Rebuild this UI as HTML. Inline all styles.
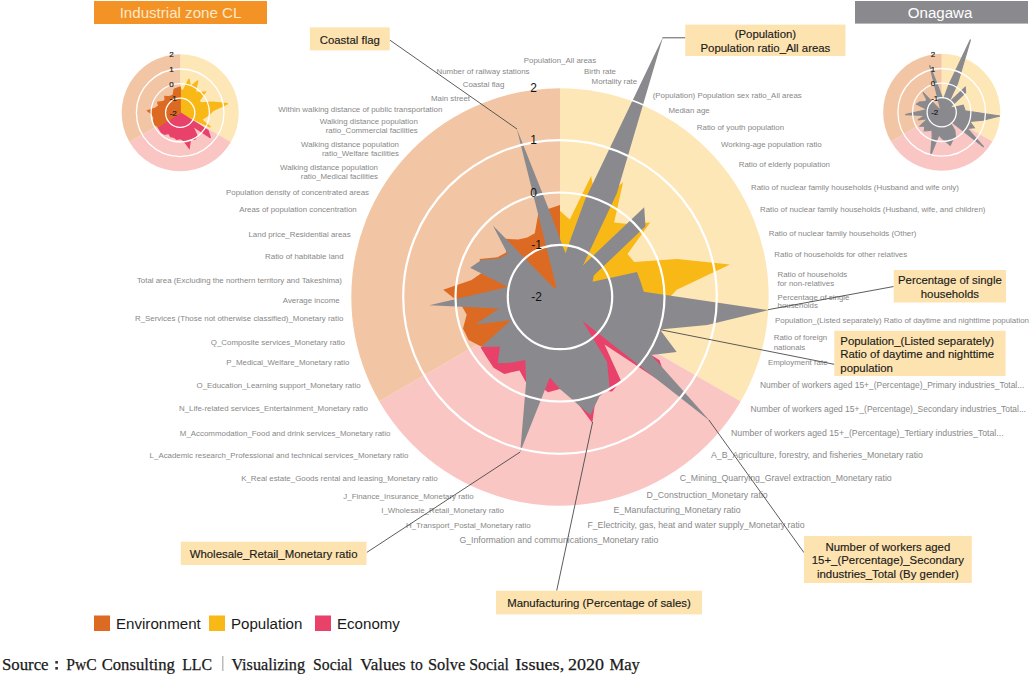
<!DOCTYPE html>
<html><head><meta charset="utf-8"><style>
html,body{margin:0;padding:0;background:#fff;width:1030px;height:674px;overflow:hidden}
svg{position:absolute;left:0;top:0;display:block}
text{font-family:"Liberation Sans",sans-serif}
text.ser{font-family:"Liberation Serif",serif}
.src{position:absolute;left:3px;top:654px;font-family:"Liberation Serif",serif;font-size:15px;color:#222;white-space:nowrap;word-spacing:3px}
</style></head><body>
<svg width="1030" height="674" viewBox="0 0 1030 674">
<path d="M180.2 112.8 L180.2 54.2 A58.6 58.6 0 0 1 230.9 142.1 Z" fill="#fee7b6"/>
<path d="M180.2 112.8 L230.9 142.1 A58.6 58.6 0 0 1 129.5 142.1 Z" fill="#f9c6c4"/>
<path d="M180.2 112.8 L129.5 142.1 A58.6 58.6 0 0 1 180.2 54.2 Z" fill="#f2c6a4"/>
<path d="M180.2 112.8 L180.2 88.8 L182.9 91.2 L188.9 79.0 L190.5 86.8 L197.8 80.7 L195.3 92.0 L199.3 92.4 L205.4 92.0 L199.1 100.8 L200.9 103.0 L212.9 102.2 L227.7 103.7 L212.8 110.7 L209.2 114.6 L204.9 117.5 L201.5 119.7 L210.5 127.1Z" fill="#f8b816" stroke-width="1.3" stroke-linejoin="miter" stroke-miterlimit="3" stroke="#f8b816"/>
<path d="M180.2 112.8 L208.0 130.5 L210.4 137.7 L192.6 126.0 L197.3 136.3 L194.7 139.3 L190.5 138.8 L189.2 148.0 L183.7 140.5 L180.2 138.5 L176.8 139.4 L173.9 137.2 L170.7 136.7 L168.9 133.4 L164.6 134.3 L161.6 132.6 L159.7 129.7 L158.0 126.9Z" fill="#e8416a" stroke-width="1.3" stroke-linejoin="miter" stroke-miterlimit="3" stroke="#e8416a"/>
<path d="M180.2 112.8 L158.3 126.7 L154.7 124.8 L153.1 121.6 L154.1 117.8 L152.3 114.6 L147.6 110.7 L155.5 108.1 L158.7 105.8 L157.7 102.2 L162.7 101.7 L165.1 100.3 L164.9 96.5 L168.5 96.7 L171.0 96.1 L173.2 95.0 L174.2 89.2 L177.1 88.1 L180.2 87.1Z" fill="#dd6a22" stroke-width="1.3" stroke-linejoin="miter" stroke-miterlimit="3" stroke="#dd6a22"/>
<circle cx="180.2" cy="112.8" r="14.6" fill="none" stroke="#fff" stroke-width="1.30"/>
<circle cx="180.2" cy="112.8" r="29.2" fill="none" stroke="#fff" stroke-width="1.30"/>
<circle cx="180.2" cy="112.8" r="43.8" fill="none" stroke="#fff" stroke-width="1.30"/>
<path d="M941.7 112.3 L941.7 53.7 A58.6 58.6 0 0 1 992.4 141.6 Z" fill="#fee7b6"/>
<path d="M941.7 112.3 L992.4 141.6 A58.6 58.6 0 0 1 891.0 141.6 Z" fill="#f9c6c4"/>
<path d="M941.7 112.3 L891.0 141.6 A58.6 58.6 0 0 1 941.7 53.7 Z" fill="#f2c6a4"/>
<path d="M941.7 96.1 L943.2 100.1 L948.7 85.2 L970.5 39.5 L957.6 83.4 L948.1 103.5 L965.2 87.2 L965.6 92.5 L951.1 106.3 L950.8 108.0 L963.2 105.3 L964.2 108.0 L965.1 110.8 L1000.0 116.0 L982.9 120.2 L969.6 121.4 L974.3 127.7 L967.2 128.5 L983.7 147.0 L948.0 119.0 L954.8 130.4 L955.6 137.5 L952.7 140.1 L950.2 145.3 L945.3 141.1 L941.7 138.0 L938.9 134.8 L930.6 155.6 L932.2 136.2 L932.0 129.9 L928.4 130.6 L924.3 130.8 L924.9 126.2 L919.8 126.2 L928.0 118.7 L918.0 120.0 L924.7 115.5 L905.2 114.6 L920.8 111.0 L927.1 109.5 L916.6 104.1 L919.7 101.9 L924.7 101.5 L927.1 100.2 L922.9 92.3 L939.6 109.4 L940.4 109.9 L940.8 110.0 L929.6 65.2 L938.6 87.9Z" fill="#8a8a8e" stroke="#8a8a8e" stroke-width="1.2" stroke-miterlimit="3"/>
<circle cx="941.7" cy="112.3" r="14.6" fill="none" stroke="#fff" stroke-width="1.30"/>
<circle cx="941.7" cy="112.3" r="29.2" fill="none" stroke="#fff" stroke-width="1.30"/>
<circle cx="941.7" cy="112.3" r="43.8" fill="none" stroke="#fff" stroke-width="1.30"/>
<path d="M560.0 297.0 L560.0 87.5 A209.5 209.5 0 0 1 741.4 401.8 Z" fill="#fee7b6"/>
<path d="M560.0 297.0 L741.4 401.8 A209.5 209.5 0 0 1 378.6 401.7 Z" fill="#f9c6c4"/>
<path d="M560.0 297.0 L378.6 401.7 A209.5 209.5 0 0 1 560.0 87.5 Z" fill="#f2c6a4"/>
<path d="M560.0 297.0 L560.0 211.0 L569.8 219.6 L591.1 175.9 L596.8 204.0 L623.1 182.2 L614.1 222.6 L628.5 224.1 L650.2 222.4 L627.5 254.1 L634.2 262.1 L677.0 259.0 L729.9 264.6 L676.8 289.7 L663.8 303.5 L648.4 313.9 L636.1 321.7 L668.6 348.1Z" fill="#f8b816"/>
<path d="M560.0 297.0 L659.6 360.2 L667.9 386.2 L604.5 344.4 L621.1 381.1 L612.0 391.6 L596.8 390.0 L592.3 422.9 L572.5 396.2 L560.0 389.0 L548.0 392.2 L537.6 384.2 L526.1 382.5 L519.5 370.6 L504.2 373.9 L493.6 367.7 L486.8 357.6 L480.6 347.4Z" fill="#e8416a"/>
<path d="M560.0 297.0 L481.5 346.8 L468.6 340.0 L463.0 328.5 L466.7 314.8 L460.2 303.3 L443.2 289.7 L471.6 280.1 L483.0 272.0 L479.5 259.1 L497.5 257.3 L506.1 252.4 L505.2 238.7 L518.3 239.6 L527.2 237.4 L534.8 233.3 L538.4 212.7 L548.8 208.7 L560.0 205.0Z" fill="#dd6a22"/>
<path d="M560.0 239.0 L565.5 253.3 L584.9 200.1 L663.1 36.7 L616.8 193.6 L582.9 265.4 L644.2 207.3 L645.5 226.2 L593.8 275.6 L592.6 281.7 L637.0 272.0 L640.5 281.6 L643.8 291.7 L768.6 310.1 L707.3 325.1 L659.9 329.4 L676.7 351.9 L651.2 354.9 L710.3 421.3 L582.6 321.1 L607.0 361.7 L609.6 387.3 L599.4 396.5 L590.3 415.2 L573.0 400.2 L560.0 389.0 L549.8 377.4 L520.2 452.0 L526.1 382.5 L525.3 360.1 L512.4 362.5 L497.7 363.3 L499.9 346.7 L481.5 346.8 L511.1 320.0 L475.4 324.5 L499.1 308.6 L429.3 305.2 L485.1 292.3 L507.9 287.1 L470.1 267.8 L481.3 260.0 L499.2 258.4 L507.6 253.7 L492.9 225.6 L552.4 286.5 L555.2 288.2 L556.7 288.6 L516.7 128.5 L549.0 209.7Z" fill="#8a8a8e"/>
<circle cx="560.0" cy="297.0" r="209.5" fill="none" stroke="#fff" stroke-width="1.6"/>
<circle cx="560.0" cy="297.0" r="52.2" fill="none" stroke="#fff" stroke-width="2.20"/>
<circle cx="560.0" cy="297.0" r="104.5" fill="none" stroke="#fff" stroke-width="2.20"/>
<circle cx="560.0" cy="297.0" r="156.8" fill="none" stroke="#fff" stroke-width="2.20"/>
<text x="523.8" y="62.8" font-size="7.90" fill="#888" text-anchor="start">Population_All areas</text>
<text x="436.5" y="73.8" font-size="7.90" fill="#888" text-anchor="start">Number of railway stations</text>
<text x="462.7" y="86.6" font-size="7.90" fill="#888" text-anchor="start">Coastal flag</text>
<text x="431.0" y="100.6" font-size="7.90" fill="#888" text-anchor="start">Main street</text>
<text x="442.3" y="112.1" font-size="7.90" fill="#888" text-anchor="end">Within walking distance of public transportation</text>
<text x="417.8" y="124.3" font-size="7.90" fill="#888" text-anchor="end">Walking distance population</text>
<text x="417.8" y="133.2" font-size="7.90" fill="#888" text-anchor="end">ratio_Commercial facilities</text>
<text x="399.0" y="147.1" font-size="7.90" fill="#888" text-anchor="end">Walking distance population</text>
<text x="399.0" y="155.9" font-size="7.90" fill="#888" text-anchor="end">ratio_Welfare facilities</text>
<text x="378.0" y="170.2" font-size="7.90" fill="#888" text-anchor="end">Walking distance population</text>
<text x="378.0" y="179.1" font-size="7.90" fill="#888" text-anchor="end">ratio_Medical facilities</text>
<text x="369.0" y="194.6" font-size="7.90" fill="#888" text-anchor="end">Population density of concentrated areas</text>
<text x="356.7" y="212.4" font-size="7.90" fill="#888" text-anchor="end">Areas of population concentration</text>
<text x="350.7" y="236.8" font-size="7.90" fill="#888" text-anchor="end">Land price_Residential areas</text>
<text x="343.6" y="258.8" font-size="7.90" fill="#888" text-anchor="end">Ratio of habitable land</text>
<text x="342.0" y="282.8" font-size="7.90" fill="#888" text-anchor="end">Total area (Excluding the northern territory and Takeshima)</text>
<text x="339.7" y="303.4" font-size="7.90" fill="#888" text-anchor="end">Average income</text>
<text x="343.3" y="321.4" font-size="7.90" fill="#888" text-anchor="end">R_Services (Those not otherwise classified)_Monetary ratio</text>
<text x="345.0" y="344.5" font-size="7.90" fill="#888" text-anchor="end">Q_Composite services_Monetary ratio</text>
<text x="349.4" y="365.2" font-size="7.90" fill="#888" text-anchor="end">P_Medical_Welfare_Monetary ratio</text>
<text x="360.6" y="387.5" font-size="7.90" fill="#888" text-anchor="end">O_Education_Learning support_Monetary ratio</text>
<text x="368.0" y="411.4" font-size="7.90" fill="#888" text-anchor="end">N_Life-related services_Entertainment_Monetary ratio</text>
<text x="390.4" y="435.8" font-size="7.90" fill="#888" text-anchor="end">M_Accommodation_Food and drink services_Monetary ratio</text>
<text x="408.4" y="458.3" font-size="7.90" fill="#888" text-anchor="end">L_Academic research_Professional and technical services_Monetary ratio</text>
<text x="437.7" y="480.8" font-size="7.90" fill="#888" text-anchor="end">K_Real estate_Goods rental and leasing_Monetary ratio</text>
<text x="473.6" y="498.8" font-size="7.90" fill="#888" text-anchor="end">J_Finance_Insurance_Monetary ratio</text>
<text x="504.0" y="513.3" font-size="7.90" fill="#888" text-anchor="end">I_Wholesale_Retail_Monetary ratio</text>
<text x="530.7" y="527.8" font-size="7.90" fill="#888" text-anchor="end">H_Transport_Postal_Monetary ratio</text>
<text x="459.4" y="543.1" font-size="8.75" fill="#888" text-anchor="start">G_Information and communications_Monetary ratio</text>
<text x="587.4" y="527.5" font-size="8.75" fill="#888" text-anchor="start">F_Electricity, gas, heat and water supply_Monetary ratio</text>
<text x="613.6" y="512.9" font-size="8.75" fill="#888" text-anchor="start">E_Manufacturing_Monetary ratio</text>
<text x="646.6" y="497.6" font-size="8.75" fill="#888" text-anchor="start">D_Construction_Monetary ratio</text>
<text x="679.7" y="480.9" font-size="8.75" fill="#888" text-anchor="start">C_Mining_Quarrying_Gravel extraction_Monetary ratio</text>
<text x="711.0" y="458.3" font-size="8.75" fill="#888" text-anchor="start">A_B_Agriculture, forestry, and fisheries_Monetary ratio</text>
<text x="731.0" y="436.4" font-size="8.75" fill="#888" text-anchor="start">Number of workers aged 15+_(Percentage)_Tertiary industries_Total...</text>
<text x="750.4" y="411.6" font-size="8.45" fill="#888" text-anchor="start">Number of workers aged 15+_(Percentage)_Secondary industries_Total...</text>
<text x="760.0" y="387.7" font-size="8.45" fill="#888" text-anchor="start">Number of workers aged 15+_(Percentage)_Primary industries_Total...</text>
<text x="767.9" y="365.0" font-size="7.90" fill="#888" text-anchor="start">Employment rate</text>
<text x="773.7" y="340.3" font-size="7.90" fill="#888" text-anchor="start">Ratio of foreign</text>
<text x="773.7" y="349.6" font-size="7.90" fill="#888" text-anchor="start">nationals</text>
<text x="775.0" y="322.8" font-size="7.90" fill="#888" text-anchor="start">Population_(Listed separately) Ratio of daytime and nighttime population</text>
<text x="777.5" y="299.5" font-size="7.90" fill="#888" text-anchor="start">Percentage of single</text>
<text x="777.5" y="308.3" font-size="7.90" fill="#888" text-anchor="start">households</text>
<text x="777.5" y="276.5" font-size="7.90" fill="#888" text-anchor="start">Ratio of households</text>
<text x="777.5" y="285.5" font-size="7.90" fill="#888" text-anchor="start">for non-relatives</text>
<text x="774.3" y="257.0" font-size="7.90" fill="#888" text-anchor="start">Ratio of households for other relatives</text>
<text x="768.7" y="236.3" font-size="7.90" fill="#888" text-anchor="start">Ratio of nuclear family households (Other)</text>
<text x="760.0" y="212.1" font-size="7.90" fill="#888" text-anchor="start">Ratio of nuclear family households (Husband, wife, and children)</text>
<text x="751.0" y="189.7" font-size="7.90" fill="#888" text-anchor="start">Ratio of nuclear family households (Husband and wife only)</text>
<text x="738.7" y="166.8" font-size="7.90" fill="#888" text-anchor="start">Ratio of elderly population</text>
<text x="721.0" y="147.3" font-size="7.90" fill="#888" text-anchor="start">Working-age population ratio</text>
<text x="696.8" y="129.8" font-size="7.90" fill="#888" text-anchor="start">Ratio of youth population</text>
<text x="668.5" y="113.4" font-size="7.90" fill="#888" text-anchor="start">Median age</text>
<text x="652.7" y="97.7" font-size="7.90" fill="#888" text-anchor="start">(Population) Population sex ratio_All areas</text>
<text x="591.6" y="84.4" font-size="7.90" fill="#888" text-anchor="start">Mortality rate</text>
<text x="584.0" y="73.6" font-size="7.90" fill="#888" text-anchor="start">Birth rate</text>
<text x="536.5" y="301.2" font-size="12" fill="#111" text-anchor="middle">-2</text>
<text x="536.5" y="248.9" font-size="12" fill="#111" text-anchor="middle">-1</text>
<text x="533.5" y="196.7" font-size="12" fill="#111" text-anchor="middle">0</text>
<text x="533.5" y="144.4" font-size="12" fill="#111" text-anchor="middle">1</text>
<text x="533.5" y="92.2" font-size="12" fill="#111" text-anchor="middle">2</text>
<text x="173.2" y="115.8" font-size="8" fill="#222" stroke="#222" stroke-width="0.2" text-anchor="middle">-2</text>
<text x="173.2" y="101.2" font-size="8" fill="#222" stroke="#222" stroke-width="0.2" text-anchor="middle">-1</text>
<text x="171.4" y="86.6" font-size="8" fill="#222" stroke="#222" stroke-width="0.2" text-anchor="middle">0</text>
<text x="171.4" y="72.0" font-size="8" fill="#222" stroke="#222" stroke-width="0.2" text-anchor="middle">1</text>
<text x="171.4" y="57.4" font-size="8" fill="#222" stroke="#222" stroke-width="0.2" text-anchor="middle">2</text>
<text x="934.7" y="115.3" font-size="8" fill="#222" stroke="#222" stroke-width="0.2" text-anchor="middle">-2</text>
<text x="934.7" y="100.7" font-size="8" fill="#222" stroke="#222" stroke-width="0.2" text-anchor="middle">-1</text>
<text x="932.9" y="86.1" font-size="8" fill="#222" stroke="#222" stroke-width="0.2" text-anchor="middle">0</text>
<text x="932.9" y="71.5" font-size="8" fill="#222" stroke="#222" stroke-width="0.2" text-anchor="middle">1</text>
<text x="932.9" y="56.9" font-size="8" fill="#222" stroke="#222" stroke-width="0.2" text-anchor="middle">2</text>
<line x1="389.7" y1="40.0" x2="517.0" y2="129.0" stroke="#4a4a4a" stroke-width="0.9"/>
<line x1="662.5" y1="37.8" x2="685.3" y2="37.8" stroke="#4a4a4a" stroke-width="0.9"/>
<line x1="893.7" y1="286.5" x2="768.0" y2="309.7" stroke="#4a4a4a" stroke-width="0.9"/>
<line x1="660.2" y1="329.7" x2="834.3" y2="364.3" stroke="#4a4a4a" stroke-width="0.9"/>
<line x1="708.9" y1="420.0" x2="804.0" y2="552.7" stroke="#4a4a4a" stroke-width="0.9"/>
<line x1="592.6" y1="422.0" x2="556.7" y2="590.7" stroke="#4a4a4a" stroke-width="0.9"/>
<line x1="366.8" y1="552.4" x2="520.2" y2="452.0" stroke="#4a4a4a" stroke-width="0.9"/>
<rect x="309.9" y="27.4" width="79.8" height="23.0" fill="#fde3b0"/>
<text x="349.8" y="43.7" font-size="11.4" fill="#1a1a1a" stroke="#1a1a1a" stroke-width="0.15" text-anchor="middle">Coastal flag</text>
<rect x="685.3" y="24.6" width="160.2" height="31.4" fill="#fde3b0"/>
<text x="765.4" y="38.4" font-size="11.4" fill="#1a1a1a" stroke="#1a1a1a" stroke-width="0.15" text-anchor="middle">(Population)</text>
<text x="765.4" y="51.7" font-size="11.4" fill="#1a1a1a" stroke="#1a1a1a" stroke-width="0.15" text-anchor="middle">Population ratio_All areas</text>
<rect x="893.7" y="270.0" width="112.3" height="32.5" fill="#fde3b0"/>
<text x="949.9" y="284.4" font-size="11.4" fill="#1a1a1a" stroke="#1a1a1a" stroke-width="0.15" text-anchor="middle">Percentage of single</text>
<text x="949.9" y="297.7" font-size="11.4" fill="#1a1a1a" stroke="#1a1a1a" stroke-width="0.15" text-anchor="middle">households</text>
<rect x="834.3" y="330.8" width="171.3" height="45.2" fill="#fde3b0"/>
<text x="840.3" y="344.9" font-size="11.4" fill="#1a1a1a" stroke="#1a1a1a" stroke-width="0.15" text-anchor="start">Population_(Listed separately)</text>
<text x="840.3" y="358.2" font-size="11.4" fill="#1a1a1a" stroke="#1a1a1a" stroke-width="0.15" text-anchor="start">Ratio of daytime and nighttime</text>
<text x="840.3" y="371.5" font-size="11.4" fill="#1a1a1a" stroke="#1a1a1a" stroke-width="0.15" text-anchor="start">population</text>
<rect x="804.0" y="536.0" width="167.8" height="47.0" fill="#fde3b0"/>
<text x="887.9" y="551.0" font-size="11.4" fill="#1a1a1a" stroke="#1a1a1a" stroke-width="0.15" text-anchor="middle">Number of workers aged</text>
<text x="887.9" y="564.3" font-size="11.4" fill="#1a1a1a" stroke="#1a1a1a" stroke-width="0.15" text-anchor="middle">15+_(Percentage)_Secondary</text>
<text x="887.9" y="577.6" font-size="11.4" fill="#1a1a1a" stroke="#1a1a1a" stroke-width="0.15" text-anchor="middle">industries_Total (By gender)</text>
<rect x="496.0" y="590.7" width="206.0" height="23.7" fill="#fde3b0"/>
<text x="599.0" y="607.3" font-size="11.4" fill="#1a1a1a" stroke="#1a1a1a" stroke-width="0.15" text-anchor="middle">Manufacturing (Percentage of sales)</text>
<rect x="180.8" y="541.7" width="185.7" height="23.3" fill="#fde3b0"/>
<text x="273.6" y="558.1" font-size="11.4" fill="#1a1a1a" stroke="#1a1a1a" stroke-width="0.15" text-anchor="middle">Wholesale_Retail_Monetary ratio</text>
<rect x="94" y="1" width="173" height="23" fill="#f39325"/>
<text x="180.5" y="18.3" font-size="15.1" fill="#fde8c8" text-anchor="middle">Industrial zone CL</text>
<rect x="855" y="1" width="173" height="22.6" fill="#8a8a8e"/>
<text x="940.1" y="18.3" font-size="15.1" fill="#fff" text-anchor="middle">Onagawa</text>
<rect x="94" y="615.5" width="16" height="15.5" fill="#dd6a22"/>
<text x="116" y="628.5" font-size="15.1" fill="#1a1a1a">Environment</text>
<rect x="209" y="615.5" width="16" height="15.5" fill="#f8b816"/>
<text x="231" y="628.5" font-size="15.1" fill="#1a1a1a">Population</text>
<rect x="315" y="615.5" width="16" height="15.5" fill="#e8416a"/>
<text x="337" y="628.5" font-size="15.1" fill="#1a1a1a">Economy</text>
<text x="1.9" y="669.8" class="ser" font-size="16.8" fill="#1a1a1a" stroke="#1a1a1a" stroke-width="0.25" textLength="46.7" lengthAdjust="spacingAndGlyphs">Source</text>
<text x="66.2" y="669.8" class="ser" font-size="16.8" fill="#1a1a1a" stroke="#1a1a1a" stroke-width="0.25" textLength="30.4" lengthAdjust="spacingAndGlyphs">PwC</text>
<text x="101.7" y="669.8" class="ser" font-size="16.8" fill="#1a1a1a" stroke="#1a1a1a" stroke-width="0.25" textLength="73.1" lengthAdjust="spacingAndGlyphs">Consulting</text>
<text x="182.2" y="669.8" class="ser" font-size="16.8" fill="#1a1a1a" stroke="#1a1a1a" stroke-width="0.25" textLength="29.9" lengthAdjust="spacingAndGlyphs">LLC</text>
<text x="231.4" y="669.8" class="ser" font-size="16.8" fill="#1a1a1a" stroke="#1a1a1a" stroke-width="0.25" textLength="73.6" lengthAdjust="spacingAndGlyphs">Visualizing</text>
<text x="313.1" y="669.8" class="ser" font-size="16.8" fill="#1a1a1a" stroke="#1a1a1a" stroke-width="0.25" textLength="39.3" lengthAdjust="spacingAndGlyphs">Social</text>
<text x="360.3" y="669.8" class="ser" font-size="16.8" fill="#1a1a1a" stroke="#1a1a1a" stroke-width="0.25" textLength="45.4" lengthAdjust="spacingAndGlyphs">Values</text>
<text x="410.6" y="669.8" class="ser" font-size="16.8" fill="#1a1a1a" stroke="#1a1a1a" stroke-width="0.25" textLength="12.2" lengthAdjust="spacingAndGlyphs">to</text>
<text x="428.0" y="669.8" class="ser" font-size="16.8" fill="#1a1a1a" stroke="#1a1a1a" stroke-width="0.25" textLength="37.3" lengthAdjust="spacingAndGlyphs">Solve</text>
<text x="469.2" y="669.8" class="ser" font-size="16.8" fill="#1a1a1a" stroke="#1a1a1a" stroke-width="0.25" textLength="39.7" lengthAdjust="spacingAndGlyphs">Social</text>
<text x="515.3" y="669.8" class="ser" font-size="16.8" fill="#1a1a1a" stroke="#1a1a1a" stroke-width="0.25" textLength="48.9" lengthAdjust="spacingAndGlyphs">Issues,</text>
<text x="567.9" y="669.8" class="ser" font-size="16.8" fill="#1a1a1a" stroke="#1a1a1a" stroke-width="0.25" textLength="36.0" lengthAdjust="spacingAndGlyphs">2020</text>
<text x="609.4" y="669.8" class="ser" font-size="16.8" fill="#1a1a1a" stroke="#1a1a1a" stroke-width="0.25" textLength="30.5" lengthAdjust="spacingAndGlyphs">May</text>
<rect x="55.3" y="661" width="2.6" height="2.6" fill="#333"/><rect x="55.3" y="667" width="2.6" height="2.6" fill="#333"/>
<rect x="222.2" y="656" width="1.2" height="15" fill="#aaa"/>
</svg>
</body></html>
